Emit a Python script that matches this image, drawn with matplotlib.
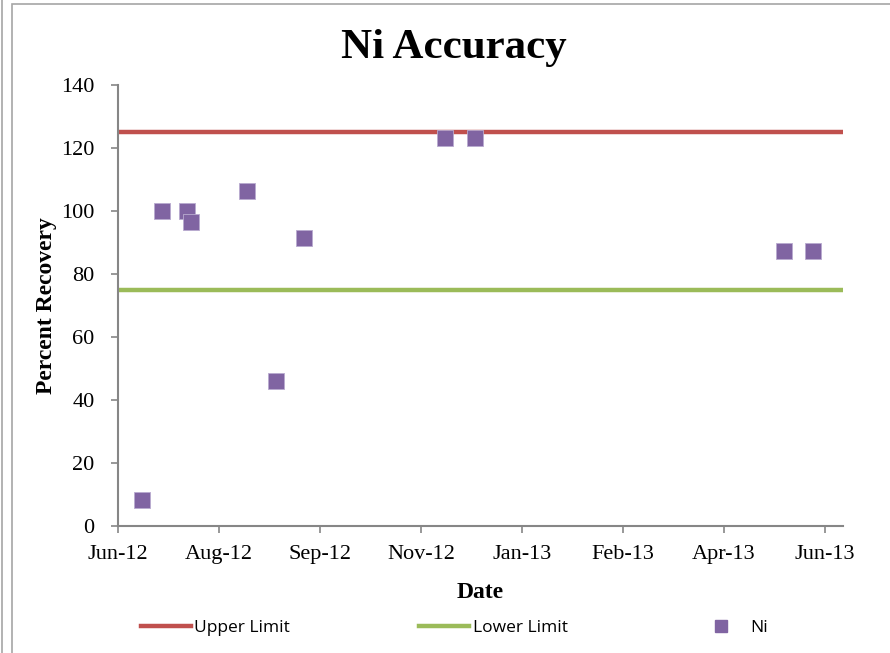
import numpy as np
import matplotlib
matplotlib.use('Agg')
import matplotlib.pyplot as plt
from matplotlib.lines import Line2D
from matplotlib.patches import Rectangle
import datetime as dt

# data
ni_dates = ['2012-06-30', '2012-07-10', '2012-07-22', '2012-07-24', '2012-08-21',
            '2012-09-04', '2012-09-18', '2012-11-27', '2012-12-12',
            '2013-05-14', '2013-05-28']
ni_values = [8.2, 100, 100, 96.5, 106.2, 46, 91.5, 123.2, 123.2, 87.2, 87.2]
upper_limit = 125
lower_limit = 75
tick_labels = ['Jun-12', 'Aug-12', 'Sep-12', 'Nov-12', 'Jan-13', 'Feb-13', 'Apr-13', 'Jun-13']

x_start = dt.date(2012, 6, 18)
x_end = x_start + dt.timedelta(days=359)
tick_dates = [x_start + dt.timedelta(days=50 * i) for i in range(len(tick_labels))]

red = '#C0504D'
green = '#9BBB59'
purple = '#8064A2'
gray = '#868686'
serif = ['Liberation Serif', 'DejaVu Serif']

fig = plt.figure(figsize=(8.9, 6.53), dpi=100)
ax = fig.add_axes([118 / 890, 1 - 526 / 653, (843 - 118) / 890, (526 - 85) / 653])

xd = [dt.datetime.strptime(d, '%Y-%m-%d').date() for d in ni_dates]
ax.plot([x_start, x_end], [upper_limit, upper_limit], color=red, lw=3.2, solid_capstyle='butt')
ax.plot([x_start, x_end], [lower_limit, lower_limit], color=green, lw=3.2, solid_capstyle='butt')
ax.scatter(xd, ni_values, marker='s', s=125, color=purple, edgecolors='#B9ABCF', linewidths=0.6, zorder=3)

ax.set_xlim(x_start, x_end)
ax.set_ylim(0, 140)
ax.set_yticks(np.arange(0, 141, 20))
ax.set_xticks(tick_dates)
ax.set_xticklabels(tick_labels)

for s in ['top', 'right']:
    ax.spines[s].set_visible(False)
for s in ['left', 'bottom']:
    ax.spines[s].set_color(gray)
    ax.spines[s].set_linewidth(1.5)
ax.tick_params(colors=gray, length=5, width=1.2, labelcolor='black', labelsize=16)
ax.tick_params(axis='x', pad=9)
ax.tick_params(axis='y', pad=12)
for lab in ax.get_xticklabels() + ax.get_yticklabels():
    lab.set_family(serif)

ax.set_xlabel('Date', family=serif, fontsize=17, fontweight='bold', labelpad=13)
ax.set_ylabel('Percent Recovery', family=serif, fontsize=17, fontweight='bold', labelpad=3)
fig.text(454 / 890, 1 - 48 / 653, 'Ni Accuracy', family=serif, fontsize=31, fontweight='bold',
         ha='center', va='center')

# frame lines around the chart
fig.add_artist(Rectangle((12 / 890, -0.01), 1.0, 1 - 4 / 653 + 0.01, transform=fig.transFigure,
                         fill=False, edgecolor='#A6A6A6', lw=1.2))
fig.add_artist(Line2D([2 / 890, 2 / 890], [0, 1], transform=fig.transFigure, color='#A6A6A6', lw=1.2))

handles = [Line2D([], [], color=red, lw=3.2),
           Line2D([], [], color=green, lw=3.2),
           Line2D([], [], color=purple, marker='s', ls='none', markersize=9)]
fig.legend(handles, ['Upper Limit', 'Lower Limit', 'Ni'], loc='center left',
           bbox_to_anchor=(125 / 890, 1 - 628 / 653), ncol=3, frameon=False,
           prop={'family': ['Open Sans', 'DejaVu Sans'], 'size': 12.5},
           handlelength=2.9, handletextpad=0.2, columnspacing=7.4)

fig.savefig('out.png', dpi=100)
